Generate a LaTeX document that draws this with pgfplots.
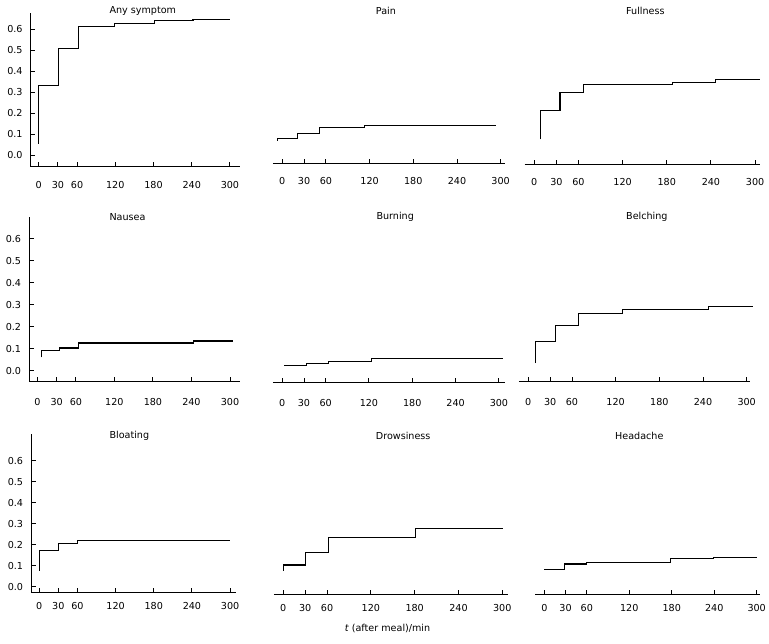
\documentclass[border=0pt]{standalone}
\usepackage{fontspec}
\setmainfont{DejaVu Sans}
\usepackage{pgfplots}
\pgfplotsset{compat=1.18}
\pgfplotsset{
  base/.style={scale only axis, anchor=south west, clip=false, xmin=-13,
    xtick={0,30,60,120,180,240,300},
    axis x line*=bottom, axis line style={-, line width=0.9bp, black},
    tick align=inside, major tick length=4.5bp,
    tick style={black, line width=0.9bp},
    /pgf/number format/assume math mode=true,
    tick label style={font=\fontsize{9.6bp}{11bp}\selectfont, text=black},
  },
  leftcol/.style={axis y line*=left, ytick={0,0.1,...,0.6},
    yticklabel style={xshift=-4.5bp, /pgf/number format/.cd, fixed, fixed zerofill, precision=1}},
  othercol/.style={axis y line=none, ytick=\empty},
  row1/.style={ymin=-0.055, ymax=0.676, height=153.5bp, xticklabel style={yshift=-11bp}},
  row2/.style={ymin=-0.05, ymax=0.70, height=165bp, xticklabel style={yshift=-13bp}},
  row3/.style={ymin=-0.027, ymax=0.725, height=157.9bp, xticklabel style={yshift=-7bp}},
  step/.style={const plot mark left, black, line width=1.1bp, mark=none},
}
\begin{document}
\fontsize{9.6bp}{11bp}\selectfont
\begin{tikzpicture}
\useasboundingbox (0,0) rectangle (769bp,-644bp);
% Row 1
\begin{axis}[base, leftcol, row1, at={(30.5bp,-166.7bp)}, width=209bp, xmax=315]
\addplot[step] coordinates {(0,0.055) (0,0.332) (31,0.508) (62,0.613) (119,0.625) (181,0.642) (242,0.646) (300,0.646)};
\end{axis}
\begin{axis}[base, othercol, row1, at={(272.8bp,-163.3bp)}, width=232.2bp, xmax=306]
\addplot[step] coordinates {(-7,0.053) (-7,0.063) (20.6,0.086) (51,0.116) (113,0.125) (293,0.125)};
\end{axis}
\begin{axis}[base, othercol, row1, at={(524.7bp,-164.3bp)}, width=234.8bp, xmax=306]
\addplot[step] coordinates {(8.7,0.064) (8.7,0.202) (35,0.288) (66.6,0.326) (187.5,0.335) (246,0.35) (306,0.35)};
\end{axis}
% Row 2
\begin{axis}[base, leftcol, row2, at={(29bp,-381.7bp)}, width=210.6bp, xmax=315]
\addplot[step] coordinates {(6.2,0.061) (6.2,0.092) (34,0.103) (64.5,0.126) (243,0.135) (304,0.135)};
\end{axis}
\begin{axis}[base, othercol, row2, at={(272.9bp,-382.7bp)}, width=231.8bp, xmax=308]
\addplot[step] coordinates {(2.4,0.030) (33,0.038) (64,0.047) (123,0.062) (305,0.062)};
\end{axis}
\begin{axis}[base, othercol, row2, at={(518.8bp,-381.7bp)}, width=230.8bp, xmax=304]
\addplot[step] coordinates {(9.6,0.034) (9.6,0.134) (38,0.206) (68.7,0.261) (129,0.28) (248,0.292) (308,0.292)};
\end{axis}
% Row 3
\begin{axis}[base, leftcol, row3, at={(31bp,-592.3bp)}, width=204.8bp, xmax=309]
\addplot[step] coordinates {(0,0.076) (0,0.174) (30.5,0.206) (60.4,0.221) (300,0.221)};
\end{axis}
\begin{axis}[base, othercol, row3, at={(273.8bp,-594bp)}, width=234.3bp, xmax=308]
\addplot[step] coordinates {(0,0.084) (0,0.111) (31,0.172) (61.6,0.24) (181.7,0.283) (301,0.283)};
\end{axis}
\begin{axis}[base, othercol, row3, at={(535.1bp,-594bp)}, width=224.4bp, xmax=304]
\addplot[step] coordinates {(0,0.091) (28,0.116) (60,0.124) (178.5,0.14) (238.7,0.149) (300,0.149)};
\end{axis}
% Titles
\begin{scope}[every node/.style={anchor=west, inner sep=0pt, text=black}]
\node at (109.3bp,-10.7bp) {Any symptom};
\node at (375.7bp,-10.7bp) {Pain};
\node at (626bp,-10.7bp) {Fullness};
\node at (109.3bp,-216.7bp) {Nausea};
\node at (376.3bp,-217.3bp) {Burning};
\node at (626bp,-217.3bp) {Belching};
\node at (109.3bp,-435.7bp) {Bloating};
\node at (375.7bp,-435.7bp) {Drowsiness};
\node at (615bp,-435.7bp) {Headache};
\end{scope}
\node[text=black] at (387.5bp,-628.3bp) {\textit{t} (after meal)/min};
\end{tikzpicture}
\end{document}
